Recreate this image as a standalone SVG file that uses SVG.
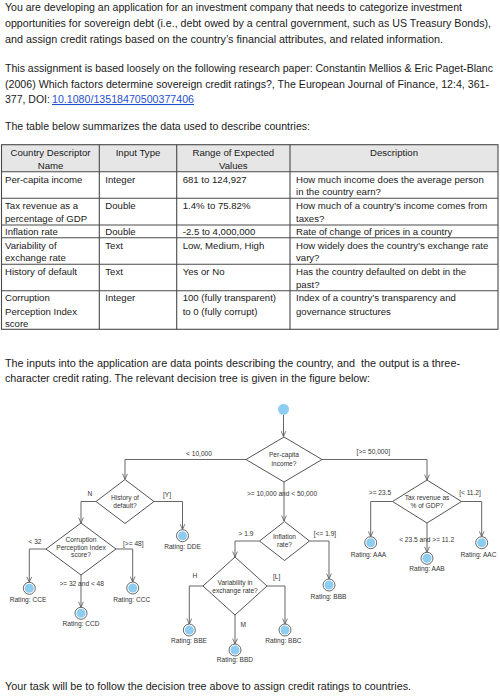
<svg xmlns="http://www.w3.org/2000/svg" width="500" height="700" viewBox="0 0 500 700">
<style>
.body{font-family:"Liberation Sans",Arial,sans-serif;font-size:10.5px;fill:#1a1a1a}
.tb{font-family:"Liberation Sans",Arial,sans-serif;font-size:9.6px;fill:#1a1a1a}
.tbc{font-family:"Liberation Sans",Arial,sans-serif;font-size:9.6px;fill:#1a1a1a;text-anchor:middle}
.grid{stroke:#4a4a4a;stroke-width:1.1;fill:none}
.dt{font-family:"Liberation Sans",Arial,sans-serif;font-size:6.6px;fill:#333;text-anchor:middle}
.dia{fill:#fff;stroke:#555;stroke-width:1}
.con{fill:none;stroke:#666;stroke-width:1;marker-end:url(#arr)}
.ring{fill:#fff;stroke:#666;stroke-width:1}
.dot{fill:#8ecdf2}
</style>
<defs>
<marker id="arr" viewBox="0 0 10 10" refX="10" refY="5" markerWidth="6" markerHeight="6" orient="auto" markerUnits="userSpaceOnUse">
<path d="M1,1 L10,5 L1,9" fill="none" stroke="#555" stroke-width="1.3"/>
</marker>
</defs>
<rect width="500" height="700" fill="#fff"/>

<g id="intro-text">
<text class="body" x="5" y="11" textLength="457" lengthAdjust="spacingAndGlyphs">You are developing an application for an investment company that needs to categorize investment</text>
<text class="body" x="5" y="27" textLength="486" lengthAdjust="spacingAndGlyphs">opportunities for sovereign debt (i.e., debt owed by a central government, such as US Treasury Bonds),</text>
<text class="body" x="5" y="43" textLength="438" lengthAdjust="spacingAndGlyphs">and assign credit ratings based on the country’s financial attributes, and related information.</text>
<text class="body" x="5" y="72" textLength="488" lengthAdjust="spacingAndGlyphs">This assignment is based loosely on the following research paper: Constantin Mellios &amp; Eric Paget-Blanc</text>
<text class="body" x="5" y="87.5" textLength="484" lengthAdjust="spacingAndGlyphs">(2006) Which factors determine sovereign credit ratings?, The European Journal of Finance, 12:4, 361-</text>
<text class="body" x="5" y="103">377, DOI:</text>
<text class="body" x="52" y="103" textLength="142" lengthAdjust="spacingAndGlyphs" style="fill:#1f4fd1;text-decoration:underline">10.1080/13518470500377406</text>
<text class="body" x="5" y="130" textLength="305" lengthAdjust="spacingAndGlyphs">The table below summarizes the data used to describe countries:</text>
</g>

<g id="table">
<rect x="1.5" y="144.7" width="496.5" height="27" fill="#e6e6e6"/>
<rect class="grid" x="1.5" y="144.7" width="496.5" height="184.6"/>
<path class="grid" d="M1.5,171.7H498 M1.5,198.3H498 M1.5,225H498 M1.5,237.7H498 M1.5,264.3H498 M1.5,290.7H498 M99.3,144.7V329.3 M176.7,144.7V329.3 M290,144.7V329.3"/>
<text class="tbc" x="50.5" y="156">Country Descriptor</text>
<text class="tbc" x="50.5" y="168.5">Name</text>
<text class="tbc" x="138" y="156">Input Type</text>
<text class="tbc" x="233.3" y="156">Range of Expected</text>
<text class="tbc" x="233.3" y="168.5">Values</text>
<text class="tbc" x="394" y="156">Description</text>

<text class="tb" x="5" y="182.5">Per-capita income</text>
<text class="tb" x="105.3" y="182.5">Integer</text>
<text class="tb" x="182.7" y="182.5">681 to 124,927</text>
<text class="tb" x="296" y="182.5">How much income does the average person</text>
<text class="tb" x="296" y="195">in the country earn?</text>

<text class="tb" x="5" y="208.5">Tax revenue as a</text>
<text class="tb" x="5" y="222">percentage of GDP</text>
<text class="tb" x="105.3" y="208.5">Double</text>
<text class="tb" x="182.7" y="208.5">1.4% to 75.82%</text>
<text class="tb" x="296" y="208.5">How much of a country’s income comes from</text>
<text class="tb" x="296" y="222">taxes?</text>

<text class="tb" x="5" y="234.8">Inflation rate</text>
<text class="tb" x="105.3" y="234.8">Double</text>
<text class="tb" x="182.7" y="234.8">-2.5 to 4,000,000</text>
<text class="tb" x="296" y="234.8">Rate of change of prices in a country</text>

<text class="tb" x="5" y="248.5">Variability of</text>
<text class="tb" x="5" y="261">exchange rate</text>
<text class="tb" x="105.3" y="248.5">Text</text>
<text class="tb" x="182.7" y="248.5">Low, Medium, High</text>
<text class="tb" x="296" y="248.5">How widely does the country’s exchange rate</text>
<text class="tb" x="296" y="261">vary?</text>

<text class="tb" x="5" y="274.5">History of default</text>
<text class="tb" x="105.3" y="274.5">Text</text>
<text class="tb" x="182.7" y="274.5">Yes or No</text>
<text class="tb" x="296" y="274.5">Has the country defaulted on debt in the</text>
<text class="tb" x="296" y="287.5">past?</text>

<text class="tb" x="5" y="301">Corruption</text>
<text class="tb" x="5" y="314.5">Perception Index</text>
<text class="tb" x="5" y="327">score</text>
<text class="tb" x="105.3" y="301">Integer</text>
<text class="tb" x="182.7" y="301">100 (fully transparent)</text>
<text class="tb" x="182.7" y="314.5">to 0 (fully corrupt)</text>
<text class="tb" x="296" y="301">Index of a country’s transparency and</text>
<text class="tb" x="296" y="314.5">governance structures</text>
</g>

<g id="mid-text">
<text class="body" x="5" y="367" textLength="455" lengthAdjust="spacingAndGlyphs" xml:space="preserve">The inputs into the application are data points describing the country, and  the output is a three-</text>
<text class="body" x="5" y="381.5" textLength="365" lengthAdjust="spacingAndGlyphs">character credit rating. The relevant decision tree is given in the figure below:</text>
</g>

<g id="connectors">
<path class="con" d="M283.5,415V436.5"/>
<path class="con" d="M246,459.5H125V479.3"/>
<path class="con" d="M284,482V521"/>
<path class="con" d="M322,459.5H427V480"/>
<path class="con" d="M96,501.5H81V523"/>
<path class="con" d="M154,501.5H182.5V529.5"/>
<path class="con" d="M46,549H29.3V582.3"/>
<path class="con" d="M116,549H132.7V582"/>
<path class="con" d="M81,575V607.3"/>
<path class="con" d="M259.5,541H235V557"/>
<path class="con" d="M309.5,541H329V579"/>
<path class="con" d="M203,586H189.3V624"/>
<path class="con" d="M235,615V644"/>
<path class="con" d="M267,586H285V624"/>
<path class="con" d="M392.5,501.5H370.7V536.7"/>
<path class="con" d="M461.5,501.5H481.7V536.7"/>
<path class="con" d="M427,523V552.3"/>
<text class="dt" x="199" y="456.3">&lt; 10,000</text>
<text class="dt" x="373.3" y="454">[&gt;= 50,000]</text>
<text class="dt" x="282" y="495.6">&gt;= 10,000 and &lt; 50,000</text>
<text class="dt" x="90" y="495.6">N</text>
<text class="dt" x="167" y="497.3">[Y]</text>
<text class="dt" x="35" y="544">&lt; 32</text>
<text class="dt" x="133.3" y="545.6">[&gt;= 48]</text>
<text class="dt" x="81.7" y="586.3">&gt;= 32 and &lt; 48</text>
<text class="dt" x="246" y="535.6">&gt; 1.9</text>
<text class="dt" x="325" y="535.6">[&lt;= 1.9]</text>
<text class="dt" x="195" y="578.3">H</text>
<text class="dt" x="276.7" y="579">[L]</text>
<text class="dt" x="243.3" y="627.3">M</text>
<text class="dt" x="380" y="494.6">&gt;= 23.5</text>
<text class="dt" x="470" y="494.6">[&lt; 11.2]</text>
<text class="dt" x="426.7" y="541.6">&lt; 23.5 and &gt;= 11.2</text>
</g>

<g id="start"><circle cx="283.5" cy="409.3" r="5.5" class="dot"/></g>

<g id="per-capita">
<polygon class="dia" points="284,437 322,459.5 284,482 246,459.5"/>
<text class="dt" x="284" y="457.3">Per-capita</text>
<text class="dt" x="284" y="466.3">income?</text>
</g>
<g id="history">
<polygon class="dia" points="125,479.5 154,501.5 125,523.5 96,501.5"/>
<text class="dt" x="125" y="499.6">History of</text>
<text class="dt" x="125" y="507.6">default?</text>
</g>
<g id="corruption">
<polygon class="dia" points="81,523 116,549 81,575 46,549"/>
<text class="dt" x="81" y="541.6">Corruption</text>
<text class="dt" x="81" y="549.6">Perception Index</text>
<text class="dt" x="81" y="557.3">score?</text>
</g>
<g id="inflation">
<polygon class="dia" points="284.5,521.5 309.5,541 284.5,560.5 259.5,541"/>
<text class="dt" x="284.5" y="539">Inflation</text>
<text class="dt" x="284.5" y="547">rate?</text>
</g>
<g id="variability">
<polygon class="dia" points="235,557 267,586 235,615 203,586"/>
<text class="dt" x="235" y="585">Variability in</text>
<text class="dt" x="235" y="592.5">exchange rate?</text>
</g>
<g id="tax">
<polygon class="dia" points="427,480 461.5,501.5 427,523 392.5,501.5"/>
<text class="dt" x="427" y="499.6">Tax revenue as</text>
<text class="dt" x="427" y="508">% of GDP?</text>
</g>

<g id="rating-dde"><circle class="ring" cx="182.5" cy="535.7" r="6"/><circle class="dot" cx="182.5" cy="535.7" r="4.5"/><text class="dt" x="182.5" y="549">Rating: DDE</text></g>
<g id="rating-cce"><circle class="ring" cx="29.3" cy="588.3" r="6"/><circle class="dot" cx="29.3" cy="588.3" r="4.5"/><text class="dt" x="28" y="602.3">Rating: CCE</text></g>
<g id="rating-ccc"><circle class="ring" cx="132.7" cy="588" r="6"/><circle class="dot" cx="132.7" cy="588" r="4.5"/><text class="dt" x="131.7" y="602.3">Rating: CCC</text></g>
<g id="rating-ccd"><circle class="ring" cx="81" cy="613.3" r="6"/><circle class="dot" cx="81" cy="613.3" r="4.5"/><text class="dt" x="81" y="626.3">Rating: CCD</text></g>
<g id="rating-bbb"><circle class="ring" cx="329" cy="585" r="6"/><circle class="dot" cx="329" cy="585" r="4.5"/><text class="dt" x="328.5" y="599">Rating: BBB</text></g>
<g id="rating-bbe"><circle class="ring" cx="189.3" cy="630" r="6"/><circle class="dot" cx="189.3" cy="630" r="4.5"/><text class="dt" x="189" y="643.3">Rating: BBE</text></g>
<g id="rating-bbd"><circle class="ring" cx="235" cy="650" r="6"/><circle class="dot" cx="235" cy="650" r="4.5"/><text class="dt" x="235" y="662.3">Rating: BBD</text></g>
<g id="rating-bbc"><circle class="ring" cx="285" cy="630" r="6"/><circle class="dot" cx="285" cy="630" r="4.5"/><text class="dt" x="283.5" y="643.3">Rating: BBC</text></g>
<g id="rating-aaa"><circle class="ring" cx="370.7" cy="542.7" r="6"/><circle class="dot" cx="370.7" cy="542.7" r="4.5"/><text class="dt" x="368.5" y="557.3">Rating: AAA</text></g>
<g id="rating-aac"><circle class="ring" cx="481.7" cy="542.7" r="6"/><circle class="dot" cx="481.7" cy="542.7" r="4.5"/><text class="dt" x="478.5" y="557.3">Rating: AAC</text></g>
<g id="rating-aab"><circle class="ring" cx="427" cy="558.3" r="6"/><circle class="dot" cx="427" cy="558.3" r="4.5"/><text class="dt" x="427" y="571.3">Rating: AAB</text></g>

<g id="outro-text">
<text class="body" x="5" y="690" textLength="406" lengthAdjust="spacingAndGlyphs">Your task will be to follow the decision tree above to assign credit ratings to countries.</text>
</g>
</svg>
